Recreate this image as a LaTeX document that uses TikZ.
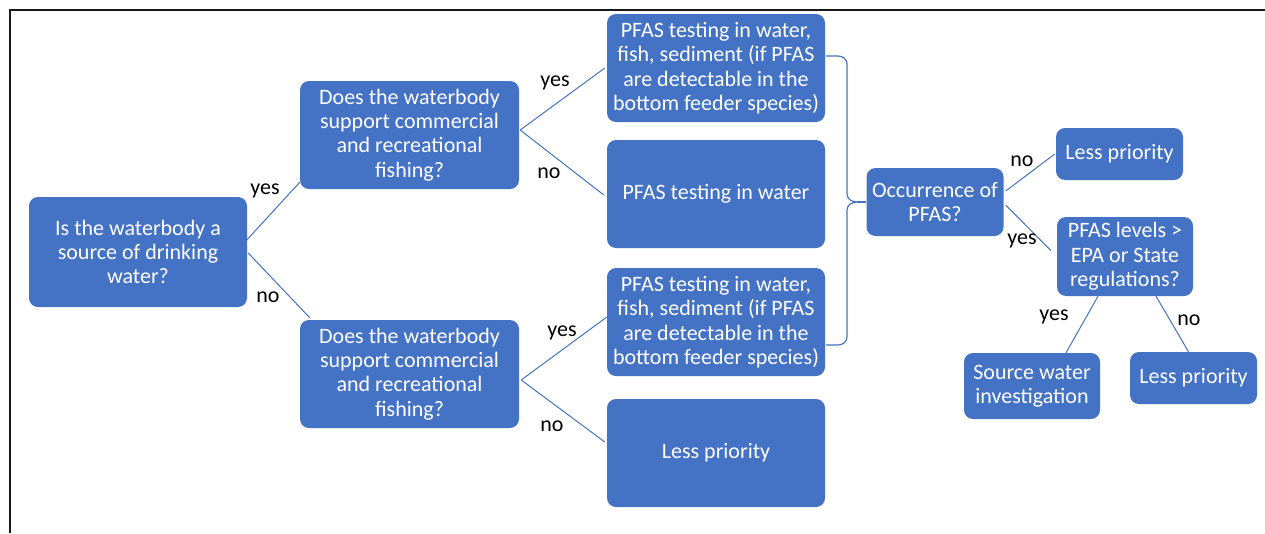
\documentclass[tikz,border=0pt]{standalone}
\usepackage{fontspec}
\setmainfont{Carlito}
\definecolor{obox}{HTML}{4472C4}
\begin{document}
\begin{tikzpicture}[x=1pt,y=-1pt,
  box/.style={draw=none,fill=obox,rounded corners=9pt,text=white,align=center,inner sep=0pt,
    font=\fontsize{22}{24.4}\selectfont},
  lbl/.style={text=black,inner sep=0pt,font=\fontsize{22}{24}\selectfont},
  conn/.style={draw=obox,line width=1pt}]
\useasboundingbox (0,0) rectangle (1265,533);
\fill[white] (0,0) rectangle (1265,533);
\draw[line width=2pt,black!90] (9.5,533) -- (9.5,9.5) -- (1265,9.5);

\node[box,minimum width=218pt,minimum height=110pt] (b1) at (138,252) {Is the waterbody a\\source of drinking\\water?};
\node[box,minimum width=219pt,minimum height=108pt] (b2) at (409.5,135) {Does the waterbody\\support commercial\\and recreational\\fishing?};
\node[box,minimum width=219pt,minimum height=108pt] (b3) at (409.5,374) {Does the waterbody\\support commercial\\and recreational\\fishing?};
\node[box,minimum width=218pt,minimum height=108pt] (b4) at (716,68) {PFAS testing in water,\\fish, sediment (if PFAS\\are detectable in the\\bottom feeder species)};
\node[box,minimum width=218pt,minimum height=108pt] (b5) at (716,194) {PFAS testing in water};
\node[box,minimum width=218pt,minimum height=108pt] (b6) at (716,322) {PFAS testing in water,\\fish, sediment (if PFAS\\are detectable in the\\bottom feeder species)};
\node[box,minimum width=218pt,minimum height=108pt] (b7) at (716,453) {Less priority};
\node[box,minimum width=137pt,minimum height=68pt] (b8) at (935,202) {Occurrence of\\PFAS?};
\node[box,minimum width=127pt,minimum height=52pt] (b9) at (1119.5,154) {Less priority};
\node[box,minimum width=136pt,minimum height=79pt] (b10) at (1125,256.5) {PFAS levels >\\EPA or State\\regulations?};
\node[box,minimum width=136pt,minimum height=66pt] (b11) at (1032,386) {Source water\\investigation};
\node[box,minimum width=127pt,minimum height=52pt] (b12) at (1193.5,378) {Less priority};

% connectors
\draw[conn] ([xshift=-5pt,yshift=7pt]b1.east) -- ([yshift=7pt]b2.south west);
\draw[conn] ([xshift=1pt,yshift=-1pt]b1.east) -- ([xshift=10pt,yshift=2pt]b3.north west);
\draw[conn] ([xshift=1pt,yshift=5pt]b2.east) -- ([xshift=-2pt]b4.west);
\draw[conn] ([xshift=1pt,yshift=5pt]b2.east) -- ([xshift=-3pt,yshift=-1pt]b5.west);
\draw[conn] ([xshift=2pt,yshift=-6pt]b3.east) -- ([yshift=5pt]b6.west);
\draw[conn] ([xshift=2pt,yshift=-6pt]b3.east) -- ([xshift=-2pt,yshift=11pt]b7.west);
\draw[conn] ([xshift=2pt,yshift=11pt]b8.east) -- ([xshift=-1pt]b9.west);
\draw[conn] ([xshift=2pt,yshift=-3pt]b8.east) -- ([xshift=-6pt,yshift=6pt]b10.west);
\draw[conn] ([xshift=-27pt]b10.south) -- ([xshift=34pt]b11.north);
\draw[conn] ([xshift=31pt]b10.south) -- ([xshift=-5pt]b12.north);

% brace
\coordinate (tip) at (857,202);
\draw[conn,line width=1.2pt] ([xshift=1pt,yshift=12pt]b4.east) -- (838,56) to[out=0,in=90] (847,64)
  -- (847,194) to[out=-90,in=180] (tip) to[out=180,in=90] (847,210)
  -- (847,337) to[out=-90,in=0] (838,345) -- ([xshift=1pt,yshift=-23pt]b6.east);
\draw[conn,line width=1.2pt] (tip) -- (b8.west);

% labels
\node[lbl] (l1) at (265,191) {yes};
\node[lbl] (l2) at (268,297) {no};
\node[lbl] (l3) at (555,83) {yes};
\node[lbl] (l4) at (549,173) {no};
\node[lbl] (l5) at (562,333) {yes};
\node[lbl] (l6) at (552,426) {no};
\node[lbl] (l7) at (1022,161) {no};
\node[lbl] (l8) at (1022,241) {yes};
\node[lbl] (l9) at (1054,317) {yes};
\node[lbl] (l10) at (1189,320) {no};
\end{tikzpicture}
\end{document}
